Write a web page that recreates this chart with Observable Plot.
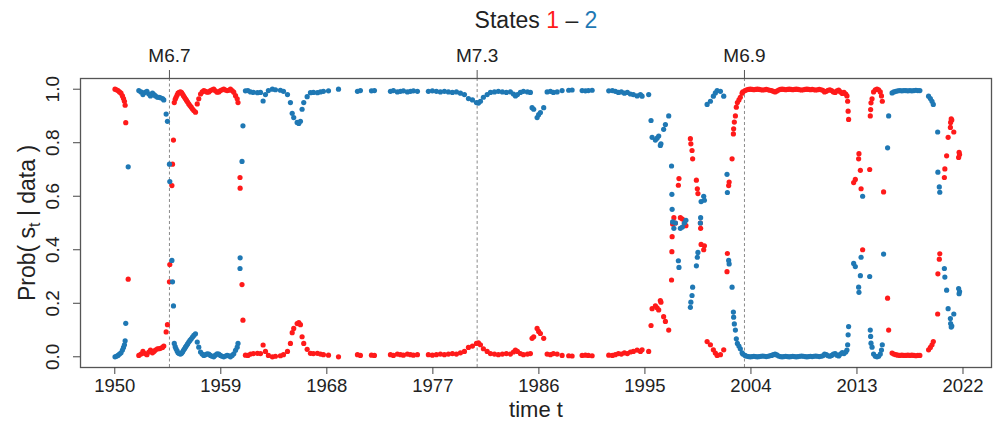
<!DOCTYPE html>
<html><head><meta charset="utf-8">
<script src="https://cdn.jsdelivr.net/npm/d3@7"></script>
<script src="https://cdn.jsdelivr.net/npm/@observablehq/plot@0.6"></script>
<style>
body{margin:0;background:#fff;}
#wrap{position:relative;width:999px;height:428px;font-family:"Liberation Sans",Arial,sans-serif;}
#title{position:absolute;top:9px;left:536px;transform:translateX(-50%);white-space:nowrap;font-size:23px;line-height:23px;color:#222;}
</style></head>
<body><div id="wrap"><div id="title">States <span style="color:#ff1a1a">1</span> – <span style="color:#1f78b4">2</span></div></div>
<script>
// time of each observation (decimal years)
const times = [
 1950.02,1950.14,1950.27,1950.40,1950.53,1950.65,1950.74,1950.82,1950.88,1950.93,1951.14,
 1952.04,1952.22,1952.39,1952.56,1952.73,1952.89,1953.03,1953.20,1953.33,1953.45,1953.62,1953.75,1953.88,1954.05,1954.16,
 1954.36,1954.47,1954.64,1954.67,1954.85,1954.90,1954.98,
 1955.05,1955.13,1955.20,1955.29,1955.37,1955.47,1955.58,1955.67,1955.75,1955.83,
 1955.92,1956.00,1956.09,1956.18,1956.28,1956.38,1956.49,1956.60,1956.71,1956.85,
 1957.00,1957.13,1957.28,1957.42,1957.56,1957.70,1957.84,1957.98,1958.12,1958.26,
 1958.40,1958.54,1958.69,1958.83,1958.97,1959.11,1959.25,1959.40,1959.54,1959.68,
 1959.82,1959.96,1960.10,1960.25,1960.39,1960.46,
 1960.63,1960.64,1960.80,1960.88,
 1961.09,1961.30,1961.52,1961.77,1962.11,1962.37,1962.59,1962.79,1963.04,1963.38,
 1963.64,1964.06,1964.32,1964.66,1964.91,1965.06,1965.19,1965.48,1965.62,1965.76,
 1965.90,1966.04,1966.33,1966.61,1966.86,1967.20,1967.46,1967.71,1968.14,1968.99,
 1970.60,1970.85,1971.79,1972.04,1973.40,1973.65,1973.99,1974.25,1974.50,1974.84,
 1975.10,1975.35,1975.69,
 1976.62,1976.96,1977.30,1977.64,1977.98,1978.32,1978.66,1979.00,1979.34,1979.68,
 1980.02,1980.36,1980.70,1980.87,1981.04,1981.29,1981.61,1981.89,1982.23,1982.56,
 1982.90,1983.24,1983.58,1983.84,1984.01,1984.18,1984.43,1984.69,1985.03,1985.28,
 1985.42,1985.56,1985.85,1985.98,1986.13,1986.41,1986.70,1986.98,1987.23,1987.55,
 1987.97,1988.53,1988.82,1989.67,1989.95,1990.20,1990.52,1991.93,1992.24,1992.49,
 1992.75,1993.00,1993.26,1993.51,1993.77,1994.02,1994.34,1994.62,1994.76,1995.32,
 1995.52,1995.61,1995.89,1996.03,1996.17,1996.31,1996.36,1996.59,1996.74,1997.02,
 1997.26,1997.29,1997.31,1997.35,1997.46,1997.59,1997.84,1997.89,1998.01,1998.18,
 1998.35,1998.48,1998.86,1998.90,1999.00,1999.05,1999.37,1999.45,1999.50,1999.71,
 1999.73,1999.77,1999.99,2000.05,2000.28,2000.56,2000.81,2000.98,2001.13,2001.41,
 2001.69,2001.97,2002.00,2002.11,2002.15,2002.40,2002.51,2002.53,2002.59,2002.68,
 2002.76,2002.85,2002.98,2003.10,2003.25,2003.31,
 2003.50,2003.65,2003.80,2003.95,2004.10,2004.25,2004.40,2004.55,2004.70,2004.85,
 2005.00,2005.15,2005.30,2005.45,2005.60,2005.75,2005.90,2006.05,2006.20,2006.35,
 2006.50,2006.65,2006.80,2006.95,2007.10,2007.25,2007.40,2007.55,2007.70,2007.85,
 2008.00,2008.15,2008.30,2008.45,2008.60,2008.75,2008.90,2009.05,2009.20,2009.35,
 2009.50,2009.65,2009.80,2009.95,2010.10,2010.25,2010.40,2010.55,2010.70,2010.85,
 2011.00,2011.15,2011.30,2011.45,2011.60,2011.75,2011.90,2012.05,2012.15,
 2012.21,2012.25,2012.29,2012.72,2012.86,2013.14,2013.17,2013.29,2013.35,2013.48,
 2014.08,2014.13,2014.16,2014.19,2014.28,2014.41,2014.56,2014.70,2014.84,2014.98,
 2015.08,2015.15,2015.26,2015.60,2015.69,2015.98,2016.13,2016.30,2016.47,2016.64,
 2016.81,2016.98,2017.15,2017.32,2017.49,2017.66,2017.83,2018.00,2018.17,2018.34,
 2019.08,2019.23,2019.37,2019.48,2019.85,2019.87,2019.99,2020.03,2020.42,2020.46,
 2020.61,2020.74,2020.93,2020.95,2021.00,2021.05,2021.22,2021.63,2021.67,2021.71
];
// Prob(state 1 | data)  (red)
const probState1 = [
 1.000,0.998,0.995,0.990,0.985,0.975,0.965,0.955,0.940,0.875,0.290,
 0.005,0.010,0.020,0.012,0.008,0.018,0.025,0.015,0.020,0.025,0.030,0.030,0.032,0.035,0.040,
 0.093,0.120,0.280,0.345,0.640,0.720,0.810,
 0.950,0.962,0.970,0.978,0.985,0.988,0.990,0.987,0.982,0.976,
 0.970,0.964,0.958,0.952,0.945,0.939,0.933,0.926,0.920,0.914,
 0.945,0.964,0.982,0.990,0.995,0.992,0.989,0.990,0.995,0.998,
 1.000,0.994,0.989,0.990,0.995,0.998,1.000,0.997,0.995,0.996,
 1.000,0.995,0.989,0.976,0.964,0.950,
 0.670,0.630,0.270,0.137,
 0.006,0.005,0.010,0.012,0.013,0.012,0.044,0.020,0.005,0.000,
 0.002,0.004,0.008,0.020,0.050,0.090,0.106,0.124,0.128,0.120,
 0.075,0.050,0.028,0.013,0.012,0.013,0.010,0.008,0.006,0.000,
 0.008,0.005,0.006,0.005,0.008,0.005,0.010,0.008,0.006,0.010,
 0.008,0.006,0.008,
 0.008,0.006,0.008,0.010,0.008,0.010,0.012,0.010,0.015,0.020,
 0.035,0.040,0.050,0.052,0.045,0.030,0.020,0.012,0.010,0.008,
 0.010,0.012,0.010,0.018,0.025,0.020,0.012,0.008,0.010,0.012,
 0.069,0.075,0.106,0.095,0.087,0.069,0.010,0.008,0.012,0.010,
 0.005,0.004,0.003,0.005,0.006,0.005,0.004,0.006,0.005,0.008,
 0.012,0.010,0.015,0.012,0.018,0.020,0.025,0.020,0.026,0.020,
 0.117,0.180,0.190,0.183,0.175,0.210,0.204,0.150,0.132,0.100,
 0.287,0.393,0.449,0.496,0.520,0.500,0.641,0.666,0.520,0.515,
 0.500,0.490,0.815,0.796,0.771,0.740,0.660,0.628,0.610,0.500,
 0.480,0.420,0.400,0.415,0.057,0.045,0.026,0.014,0.005,0.008,
 0.026,0.318,0.386,0.640,0.653,0.740,0.833,0.852,0.877,0.900,
 0.933,0.950,0.960,0.970,0.985,0.990,
 0.995,0.998,0.999,1.000,0.999,0.998,0.999,1.000,0.999,0.998,
 0.997,0.998,0.999,0.998,0.996,0.995,0.992,0.990,0.993,0.997,
 0.999,1.000,0.999,0.998,0.999,1.000,0.999,0.998,0.999,1.000,
 0.999,0.998,0.997,0.998,0.999,1.000,0.999,0.998,0.999,0.998,
 0.997,0.998,0.999,0.998,0.996,0.990,0.992,0.996,0.998,0.995,
 0.990,0.988,0.994,0.997,0.990,0.984,0.988,0.982,0.975,
 0.955,0.918,0.887,0.651,0.663,0.740,0.759,0.697,0.628,0.400,
 0.700,0.900,0.924,0.949,0.964,0.990,0.998,1.000,0.998,0.990,
 0.975,0.955,0.616,0.219,0.100,0.014,0.010,0.008,0.006,0.005,
 0.006,0.005,0.005,0.006,0.005,0.006,0.005,0.004,0.005,0.005,
 0.026,0.035,0.045,0.057,0.160,0.310,0.365,0.385,0.670,0.702,
 0.751,0.820,0.857,0.876,0.889,0.885,0.840,0.745,0.764,0.756
];
// Prob(state 2 | data)  (blue)
const probState2 = [
 0.000,0.002,0.005,0.010,0.015,0.025,0.035,0.045,0.060,0.125,0.710,
 0.995,0.990,0.980,0.988,0.992,0.982,0.975,0.985,0.980,0.975,0.970,0.970,0.968,0.965,0.960,
 0.907,0.880,0.720,0.655,0.360,0.280,0.190,
 0.050,0.038,0.030,0.022,0.015,0.012,0.010,0.013,0.018,0.024,
 0.030,0.036,0.042,0.048,0.055,0.061,0.067,0.074,0.080,0.086,
 0.055,0.036,0.018,0.010,0.005,0.008,0.011,0.010,0.005,0.002,
 0.000,0.006,0.011,0.010,0.005,0.002,0.000,0.003,0.005,0.004,
 0.000,0.005,0.011,0.024,0.036,0.050,
 0.330,0.370,0.730,0.863,
 0.994,0.995,0.990,0.988,0.987,0.988,0.956,0.980,0.995,1.000,
 0.998,0.996,0.992,0.980,0.950,0.910,0.894,0.876,0.872,0.880,
 0.925,0.950,0.972,0.987,0.988,0.987,0.990,0.992,0.994,1.000,
 0.992,0.995,0.994,0.995,0.992,0.995,0.990,0.992,0.994,0.990,
 0.992,0.994,0.992,
 0.992,0.994,0.992,0.990,0.992,0.990,0.988,0.990,0.985,0.980,
 0.965,0.960,0.950,0.948,0.955,0.970,0.980,0.988,0.990,0.992,
 0.990,0.988,0.990,0.982,0.975,0.980,0.988,0.992,0.990,0.988,
 0.931,0.925,0.894,0.905,0.913,0.931,0.990,0.992,0.988,0.990,
 0.995,0.996,0.997,0.995,0.994,0.995,0.996,0.994,0.995,0.992,
 0.988,0.990,0.985,0.988,0.982,0.980,0.975,0.980,0.974,0.980,
 0.883,0.820,0.810,0.817,0.825,0.790,0.796,0.850,0.868,0.900,
 0.713,0.607,0.551,0.504,0.480,0.500,0.359,0.334,0.480,0.485,
 0.500,0.510,0.185,0.204,0.229,0.260,0.340,0.372,0.390,0.500,
 0.520,0.580,0.600,0.585,0.943,0.955,0.974,0.986,0.995,0.992,
 0.974,0.682,0.614,0.360,0.347,0.260,0.167,0.148,0.123,0.100,
 0.067,0.050,0.040,0.030,0.015,0.010,
 0.005,0.002,0.001,0.000,0.001,0.002,0.001,0.000,0.001,0.002,
 0.003,0.002,0.001,0.002,0.004,0.005,0.008,0.010,0.007,0.003,
 0.001,0.000,0.001,0.002,0.001,0.000,0.001,0.002,0.001,0.000,
 0.001,0.002,0.003,0.002,0.001,0.000,0.001,0.002,0.001,0.002,
 0.003,0.002,0.001,0.002,0.004,0.010,0.008,0.004,0.002,0.005,
 0.010,0.012,0.006,0.003,0.010,0.016,0.012,0.018,0.025,
 0.045,0.082,0.113,0.349,0.337,0.260,0.241,0.303,0.372,0.600,
 0.300,0.100,0.076,0.051,0.036,0.010,0.002,0.000,0.002,0.010,
 0.025,0.045,0.384,0.781,0.900,0.986,0.990,0.992,0.994,0.995,
 0.994,0.995,0.995,0.994,0.995,0.994,0.995,0.996,0.995,0.995,
 0.974,0.965,0.955,0.943,0.840,0.690,0.635,0.615,0.330,0.298,
 0.249,0.180,0.143,0.124,0.111,0.115,0.160,0.255,0.236,0.244
];
const xTicks = [1950, 1959, 1968, 1977, 1986, 1995, 2004, 2013, 2022];
const yTicks = [0, 0.2, 0.4, 0.6, 0.8, 1.0];
const quakeTimes = [1954.64, 1980.76, 2003.45];
const quakeLabels = ["M6.7", "M7.3", "M6.9"];
const xLabel = "time t";
const yLabel = "Prob( st | data )";

const RED = "#ff1a1a", BLUE = "#1f78b4";
if (times.length !== probState1.length || times.length !== probState2.length)
  console.error("length mismatch", times.length, probState1.length, probState2.length);

const s1 = times.map((t, i) => ({t, p: probState1[i]}));
const s2 = times.map((t, i) => ({t, p: probState2[i]}));
const quakes = quakeTimes.map((t, i) => ({t, label: quakeLabels[i]}));

const plot = Plot.plot({
  width: 999, height: 428,
  marginLeft: 80, marginRight: 8, marginTop: 78, marginBottom: 61,
  style: {fontFamily: "'Liberation Sans', Arial, sans-serif", color: "#222", background: "transparent"},
  x: {domain: [1947.09, 2024.42]},
  y: {domain: [-0.04, 1.04]},
  marks: [
    Plot.ruleX(quakeTimes, {stroke: "#8a8a8a", strokeDasharray: "3,2.5", strokeWidth: 1}),
    Plot.dot(s1, {x: "t", y: "p", r: 2.6, fill: RED}),
    Plot.dot(s2, {x: "t", y: "p", r: 2.6, fill: BLUE}),
    Plot.frame({stroke: "#555", strokeWidth: 1.3}),
    Plot.axisX({ticks: xTicks, tickSize: 7, tickPadding: 4, fontSize: 18.5, tickFormat: d => String(d), label: null, stroke: "#444"}),
    Plot.axisX({anchor: "top", ticks: quakeTimes, tickSize: 9, tickFormat: () => "", label: null, stroke: "#555"}),
    Plot.text(quakes, {x: "t", text: "label", frameAnchor: "top", textAnchor: "middle", dy: -30, fontSize: 19}),
    Plot.axisY({ticks: yTicks, tickSize: 7, tickFormat: () => "", label: null, stroke: "#444"}),
    Plot.text(yTicks, {y: d => d, text: d => d.toFixed(1), frameAnchor: "left", textAnchor: "middle", dx: -27.5, rotate: -90, fontSize: 19}),
    Plot.text([xLabel], {frameAnchor: "bottom", textAnchor: "middle", dy: 49, fontSize: 22}),
    Plot.text([yLabel], {frameAnchor: "left", textAnchor: "middle", dx: -52.5, rotate: -90, fontSize: 23})
  ]
});

// subscript t in the y label
const ns = "http://www.w3.org/2000/svg";
for (const el of plot.querySelectorAll("text")) {
  if (el.textContent === yLabel) {
    el.textContent = "";
    const a = document.createElementNS(ns, "tspan"); a.textContent = "Prob( s";
    const b = document.createElementNS(ns, "tspan"); b.textContent = "t"; b.setAttribute("dy", "5"); b.setAttribute("font-size", "16");
    const c = document.createElementNS(ns, "tspan"); c.textContent = " | data )"; c.setAttribute("dy", "-5");
    el.append(a, b, c);
  }
}
document.getElementById("wrap").appendChild(plot);
</script></body></html>
